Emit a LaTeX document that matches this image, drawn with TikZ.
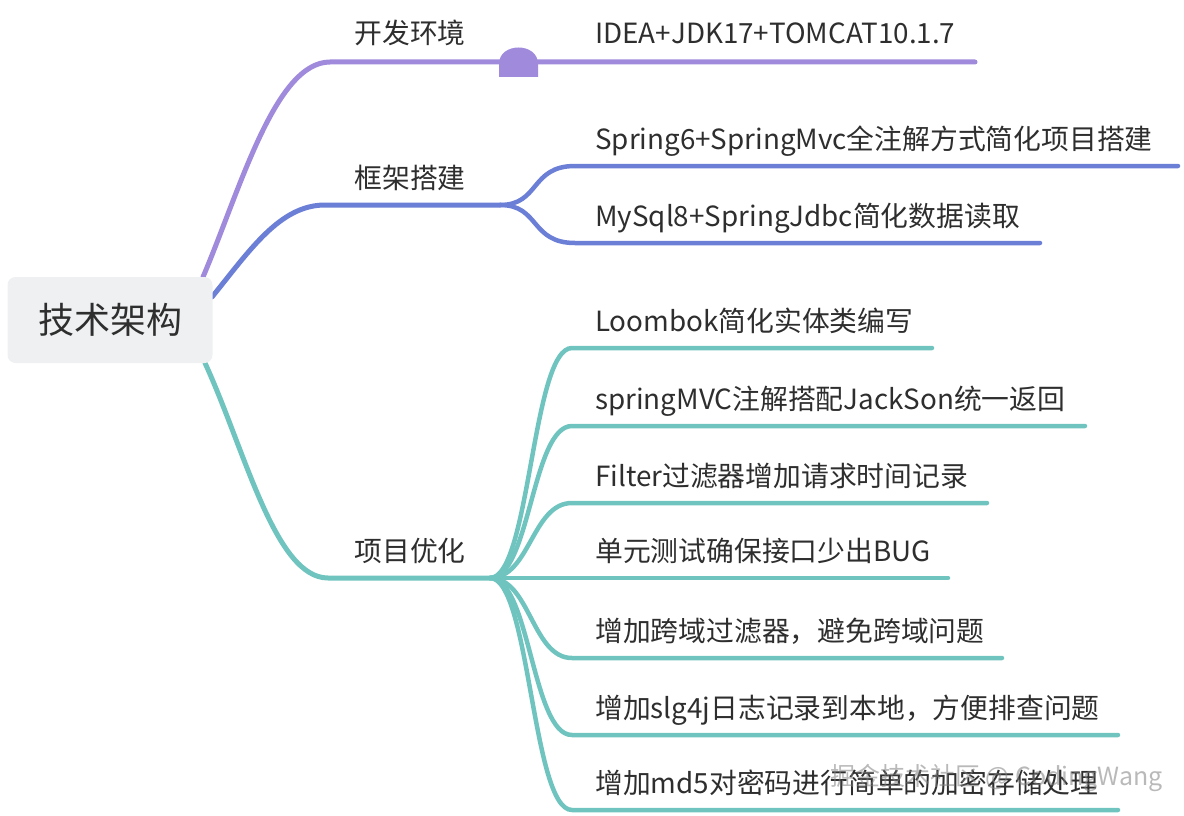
\documentclass[tikz,border=0pt]{standalone}
\usepackage{fontspec}
\setmainfont{Noto Sans CJK SC}
\definecolor{cpur}{HTML}{9F8ADC}
\definecolor{cblu}{HTML}{6B7FD6}
\definecolor{ctea}{HTML}{70C4BF}
\definecolor{ctxt}{HTML}{2E2E2E}
\definecolor{croot}{HTML}{EEF0F1}
\begin{document}
\begin{tikzpicture}[x=1pt,y=-1pt,
  txt/.style={font=\fontsize{27.8}{32}\selectfont, text=ctxt, inner sep=0pt},
  lab/.style={txt, anchor=base west},
  mid/.style={txt, anchor=base},
  br/.style={line width=5pt, line cap=round},
  ln/.style={line width=4.5pt, line cap=round}]
\useasboundingbox (0,0) rectangle (1184,816);

% ---------- branch: 开发环境 ----------
\coordinate (s1) at (203,277);
\coordinate (h1) at (330,62);
\coordinate (e1) at (975,62);
\draw[br, cpur] (s1) .. controls (240,190) and (275,62) .. (h1) -- (e1);
\node[mid] (b1) at (410,44) {开发环境};
\fill[cpur] (499,77) -- (499,64) .. controls (499,42) and (538,42) .. (538,64) -- (538,77) -- cycle;
\node[lab] (c1) at (595,44) {IDEA+JDK17+TOMCAT10.1.7};

% ---------- branch: 框架搭建 ----------
\coordinate (s2) at (212,297);
\coordinate (h2) at (325,205);
\coordinate (k2) at (500,205);
\draw[br, cblu] (s2) .. controls (250,250) and (280,205) .. (h2) -- (k2);
\node[mid] (b2) at (410,188) {框架搭建};
\coordinate (e21) at (1178,166);
\coordinate (e22) at (1040,243);
\draw[ln, cblu] (k2) .. controls (540,205) and (530,166) .. (575,166) -- (e21);
\draw[ln, cblu] (k2) .. controls (540,205) and (530,243) .. (575,243) -- (e22);
\node[lab] (c2) at (595,149) {Spring6+SpringMvc全注解方式简化项目搭建};
\node[lab] (c3) at (595,226) {MySql8+SpringJdbc简化数据读取};

% ---------- branch: 项目优化 ----------
\coordinate (s3) at (205,363);
\coordinate (h3) at (328,578);
\coordinate (k3) at (490,578);
\draw[br, ctea] (s3) .. controls (245,450) and (275,578) .. (h3) -- (k3);
\node[mid] (b3) at (410,561) {项目优化};
\foreach \y/\e/\t/\n in {
  348/932/{Loombok简化实体类编写}/c4,
  426/1085/{springMVC注解搭配JackSon统一返回}/c5,
  503/987/{Filter过滤器增加请求时间记录}/c6,
  578/948/{单元测试确保接口少出BUG}/c7,
  658/1002/{增加跨域过滤器，避免跨域问题}/c8,
  735/1118/{增加slg4j日志记录到本地，方便排查问题}/c9,
  810/1118/{增加md5对密码进行简单的加密存储处理}/c10}{
  \coordinate (e\n) at (\e,\y);
  \draw[ln, ctea] (k3) .. controls (530,578) and (532,\y) .. (572,\y) -- (e\n);
  \node[lab] (\n) at (595,\y-17) {\t};
}

% ---------- root ----------
\node[fill=croot, rounded corners=8pt, minimum width=205pt, minimum height=86pt,
  inner sep=0pt, font=\fontsize{36}{40}\selectfont, text=ctxt] (root) at (110,320) {技术架构};

% ---------- watermark ----------
\node[anchor=base west, inner sep=0pt, font=\fontsize{25}{28}\selectfont,
  text=gray, opacity=0.55] (wm) at (830,785) {掘金技术社区 @ CodingWang};
\end{tikzpicture}
\end{document}
